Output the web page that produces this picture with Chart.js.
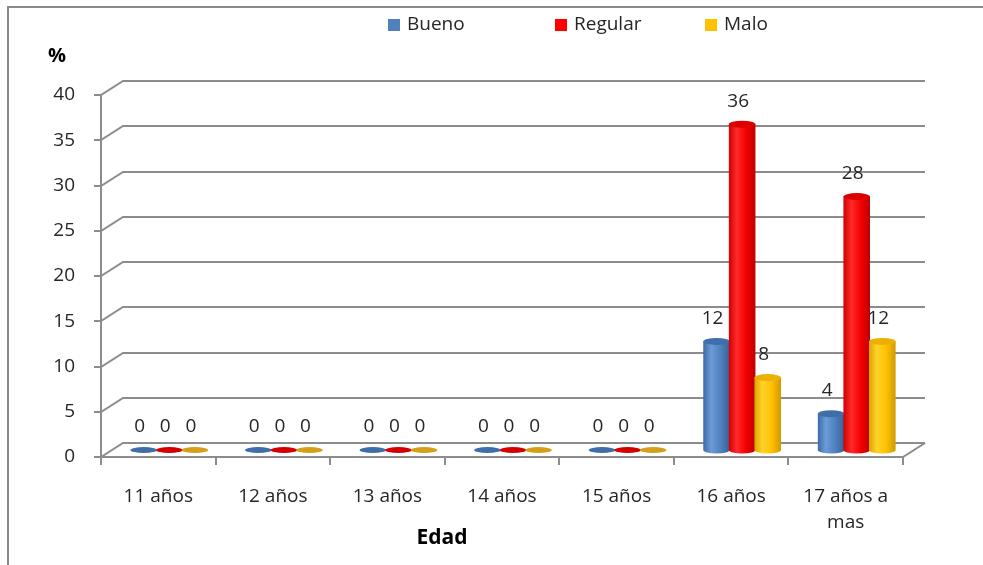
<!DOCTYPE html>
<html>
<head>
<meta charset="utf-8">
<script src="https://cdn.jsdelivr.net/npm/chart.js@4.4.1/dist/chart.umd.min.js"></script>
<style>
  html, body { margin: 0; padding: 0; background: #fff; }
  #wrap { width: 983px; height: 565px; }
</style>
</head>
<body>
<div id="wrap"><canvas id="edadChart" width="983" height="565"></canvas></div>
<script>
// ages and percentage per rating
const categories = ['11 años', '12 años', '13 años', '14 años', '15 años', '16 años', ['17 años a', 'mas']];
const bueno   = [0, 0, 0, 0, 0, 12, 4];
const regular = [0, 0, 0, 0, 0, 36, 28];
const malo    = [0, 0, 0, 0, 0, 8, 12];
const seriesNames = ['Bueno', 'Regular', 'Malo'];
const yMax = 40;
const yStep = 5;

// cylinder shading: [edgeLeft, highlight, mid, edgeRight, top, legend]
const palettes = [
  ['#3d6aa3', '#6b9bd8', '#4f81bd', '#37629a', '#3f6faa', '#4f81bd'],
  ['#d00000', '#ff2a2a', '#f50000', '#bc0000', '#dc0000', '#ff0000'],
  ['#dca400', '#ffd42a', '#ffc000', '#d09a00', '#eeb000', '#ffc000']
];
const zeroDisc = ['#3f6ea8', '#d40000', '#d4a017'];

const FONT = '"Open Sans", "Liberation Sans", sans-serif';
const TEXT = '#262626';
const GRID = '#8c8c8c';
const DX = 22, DY = -14;   // wall depth offset

const depth3d = {
  id: 'depth3d',
  beforeDatasetsDraw(chart) {
    const { ctx, chartArea: a, scales: { x, y } } = chart;
    ctx.save();
    ctx.strokeStyle = GRID;
    ctx.lineWidth = 2;
    // back wall gridlines with their diagonals and tick marks
    y.ticks.forEach(t => {
      const py = Math.round(y.getPixelForValue(t.value));
      ctx.beginPath();
      ctx.moveTo(a.left - 7, py);
      ctx.lineTo(a.left, py);
      ctx.lineTo(a.left + DX, py + DY);
      ctx.lineTo(a.right + DX, py + DY);
      ctx.stroke();
    });
    // front axes and floor edge
    ctx.beginPath();
    ctx.moveTo(a.left, Math.round(y.getPixelForValue(yMax)));
    ctx.lineTo(a.left, a.bottom);
    ctx.lineTo(a.right, a.bottom);
    ctx.lineTo(a.right + DX, a.bottom + DY);
    ctx.stroke();
    // category separators
    const n = categories.length;
    for (let i = 0; i <= n; i++) {
      const px = Math.round(x.left + i * (x.right - x.left) / n);
      ctx.beginPath();
      ctx.moveTo(px, a.bottom);
      ctx.lineTo(px, a.bottom + 8);
      ctx.stroke();
    }
    ctx.restore();
  },
  afterDatasetsDraw(chart) {
    const { ctx } = chart;
    ctx.save();
    chart.data.datasets.forEach((ds, di) => {
      const meta = chart.getDatasetMeta(di);
      const p = palettes[di];
      meta.data.forEach((bar, i) => {
        const cx = bar.x + DX / 2;
        const top = bar.y + DY / 2;
        const base = bar.base + DY / 2;
        const rx = bar.width / 2 + 0.5;
        const ry = 3.5;
        if (ds.data[i] === 0) {
          ctx.fillStyle = zeroDisc[di];
          ctx.beginPath();
          ctx.ellipse(cx, base, rx, 3, 0, 0, Math.PI * 2);
          ctx.fill();
        } else {
          const g = ctx.createLinearGradient(cx - rx, 0, cx + rx, 0);
          g.addColorStop(0, p[0]);
          g.addColorStop(0.3, p[1]);
          g.addColorStop(0.65, p[2]);
          g.addColorStop(1, p[3]);
          ctx.fillStyle = g;
          ctx.beginPath();
          ctx.moveTo(cx - rx, top);
          ctx.lineTo(cx - rx, base);
          ctx.ellipse(cx, base, rx, ry, 0, Math.PI, 0, true);
          ctx.lineTo(cx + rx, top);
          ctx.closePath();
          ctx.fill();
          ctx.fillStyle = p[4];
          ctx.beginPath();
          ctx.ellipse(cx, top, rx, ry, 0, 0, Math.PI * 2);
          ctx.fill();
        }
        // value label
        ctx.fillStyle = TEXT;
        ctx.font = '19px ' + FONT;
        ctx.textAlign = 'center';
        ctx.textBaseline = 'middle';
        ctx.fillText(String(ds.data[i]), cx - 4, top - 23);
      });
    });
    ctx.restore();
  },
  afterDraw(chart) {
    const { ctx } = chart;
    ctx.save();
    // outer frame
    ctx.strokeStyle = '#8a8a8a';
    ctx.lineWidth = 2;
    ctx.beginPath();
    ctx.moveTo(8, 565);
    ctx.lineTo(8, 7);
    ctx.lineTo(983, 7);
    ctx.stroke();
    // legend
    const legendX = [388, 555, 705];
    ctx.font = '19px ' + FONT;
    ctx.textBaseline = 'middle';
    ctx.textAlign = 'left';
    seriesNames.forEach((name, i) => {
      ctx.fillStyle = palettes[i][5];
      ctx.fillRect(legendX[i], 19, 12, 12);
      ctx.fillStyle = TEXT;
      ctx.fillText(name, legendX[i] + 19, 25);
    });
    // axis titles
    ctx.fillStyle = '#000';
    ctx.font = 'bold 20px ' + FONT;
    ctx.textAlign = 'center';
    ctx.fillText('%', 57, 56);
    ctx.font = 'bold 21px ' + FONT;
    ctx.fillText('Edad', 442, 538);
    ctx.restore();
  }
};

const transparent = 'rgba(0,0,0,0)';

new Chart(document.getElementById('edadChart'), {
  type: 'bar',
  data: {
    labels: categories,
    datasets: [
      { label: seriesNames[0], data: bueno, backgroundColor: transparent },
      { label: seriesNames[1], data: regular, backgroundColor: transparent },
      { label: seriesNames[2], data: malo, backgroundColor: transparent }
    ]
  },
  options: {
    responsive: false,
    animation: false,
    layout: { padding: { top: 95, right: 80, left: 0, bottom: 0 } },
    datasets: { bar: { categoryPercentage: 0.67, barPercentage: 1.0 } },
    plugins: { legend: { display: false }, tooltip: { enabled: false } },
    scales: {
      x: {
        grid: { display: false, drawTicks: false },
        border: { display: false },
        ticks: { color: TEXT, font: { family: FONT, size: 19, lineHeight: 1.4 }, padding: 26, maxRotation: 0 },
        afterFit(scale) { scale.height = 108; }
      },
      y: {
        min: 0,
        max: yMax,
        grid: { display: false, drawTicks: false },
        border: { display: false },
        ticks: { stepSize: yStep, color: TEXT, font: { family: FONT, size: 19 }, padding: 26 },
        afterFit(scale) { scale.width = 101; }
      }
    }
  },
  plugins: [depth3d]
});
</script>
</body>
</html>
